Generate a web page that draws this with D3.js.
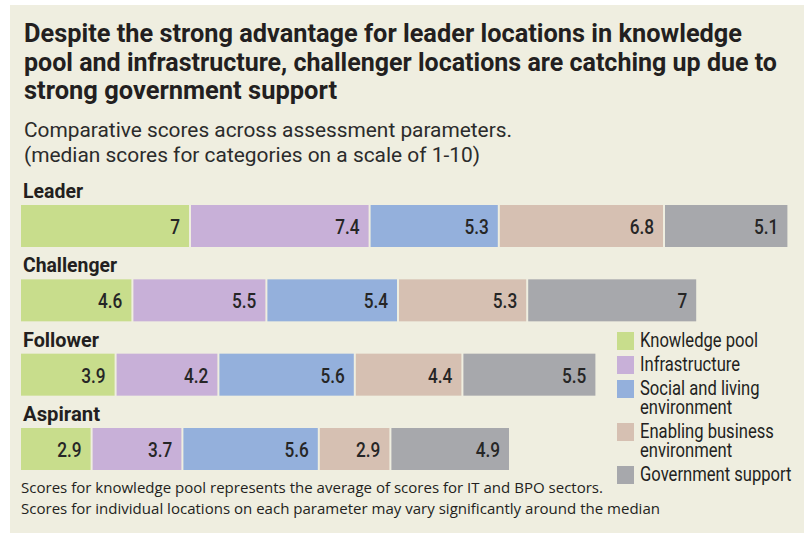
<!DOCTYPE html>
<html>
<head>
<meta charset="utf-8">
<script src="https://cdn.jsdelivr.net/npm/d3@7"></script>
<style>
  html, body { margin: 0; padding: 0; background: #ffffff; }
  svg { display: block; }
</style>
</head>
<body>
<div id="chart"></div>
<script>
// categories (rows) and the five assessment parameters (stacked segments)
var categories = ['Leader', 'Challenger', 'Follower', 'Aspirant'];
var parameters = ['Knowledge pool', 'Infrastructure', 'Social and living environment', 'Enabling business environment', 'Government support'];

// median scores per category, one array per parameter
var knowledgePool     = [7,   4.6, 3.9, 2.9];
var infrastructure    = [7.4, 5.5, 4.2, 3.7];
var socialLiving      = [5.3, 5.4, 5.6, 5.6];
var enablingBusiness  = [6.8, 5.3, 4.4, 2.9];
var governmentSupport = [5.1, 7,   5.5, 4.9];

// legend labels, split into lines as printed
var legendLabels = [['Knowledge pool'], ['Infrastructure'], ['Social and living', 'environment'], ['Enabling business', 'environment'], ['Government support']];

var titleLines = [
  'Despite the strong advantage for leader locations in knowledge',
  'pool and infrastructure, challenger locations are catching up due to',
  'strong government support'
];
var subtitleLines = [
  'Comparative scores across assessment parameters.',
  '(median scores for categories on a scale of 1-10)'
];
var footnoteLines = [
  'Scores for knowledge pool represents the average of scores for IT and BPO sectors.',
  'Scores for individual locations on each parameter may vary significantly around the median'
];

(function() {

  var width = 804,
      height = 533,
      bg = '#efeee0',
      ink = '#231f20',
      colors = ['#c8dd8c', '#c8b0d8', '#94b0dc', '#d6c0b2', '#a7a8ac'],
      condensed = 'Roboto, "Liberation Sans", sans-serif',
      plain = '"Open Sans", "DejaVu Sans", sans-serif',
      barLeft = 21,
      barHeight = 42,
      gap = 2;

  //narrow a text to a share of its natural width (no condensed faces installed)
  function squeeze(sel, factor) {
    sel.each(function() {
      var w = this.getComputedTextLength();
      d3.select(this)
        .attr('textLength', w * factor)
        .attr('lengthAdjust', 'spacingAndGlyphs');
    });
  }

  var svg = d3.select('#chart').append('svg')
    .attr('width', width)
    .attr('height', height);

  svg.append('rect')
    .attr('x', 10).attr('y', 5)
    .attr('width', width - 10).attr('height', height - 5)
    .attr('fill', bg);

  //Title + subtitle, stretched to the printed widths
  var titleWidths = [718, 753, 313];
  svg.selectAll('text.title')
    .data(titleLines)
    .enter().append('text')
      .attr('class', 'title')
      .attr('x', 24)
      .attr('y', function(d, i) { return 42 + i * 28.5; })
      .attr('font-family', condensed)
      .attr('font-weight', 'bold')
      .attr('font-size', 25)
      .attr('fill', ink)
      .attr('textLength', function(d, i) { return titleWidths[i]; })
      .attr('lengthAdjust', 'spacingAndGlyphs')
      .text(function(d) { return d; });

  var subWidths = [488, 456];
  svg.selectAll('text.subtitle')
    .data(subtitleLines)
    .enter().append('text')
      .attr('class', 'subtitle')
      .attr('x', 24)
      .attr('y', function(d, i) { return 137 + i * 25; })
      .attr('font-family', condensed)
      .attr('font-size', 20)
      .attr('fill', '#2b2b2b')
      .attr('textLength', function(d, i) { return subWidths[i]; })
      .attr('lengthAdjust', 'spacingAndGlyphs')
      .text(function(d) { return d; });

  //Scales
  var x = d3.scaleLinear().domain([0, 10]).range([0, 240]);
  var y = d3.scalePoint().domain(categories).range([205, 428]);

  var series = [knowledgePool, infrastructure, socialLiving, enablingBusiness, governmentSupport];
  var rows = categories.map(function(c, i) {
    var row = { category: c };
    parameters.forEach(function(p, j) { row[p] = series[j][i]; });
    return row;
  });

  var stacked = d3.stack().keys(parameters)(rows);

  //Category labels
  var labelWidths = { Leader: 60, Challenger: 94, Follower: 76, Aspirant: 77 };
  svg.selectAll('text.cat')
    .data(categories)
    .enter().append('text')
      .attr('class', 'cat')
      .attr('x', 23)
      .attr('y', function(d) { return y(d) - 7; })
      .attr('font-family', condensed)
      .attr('font-weight', 'bold')
      .attr('font-size', 21)
      .attr('fill', ink)
      .attr('textLength', function(d) { return labelWidths[d]; })
      .attr('lengthAdjust', 'spacingAndGlyphs')
      .text(function(d) { return d; });

  //Stacked segments
  var layers = svg.selectAll('g.layer')
    .data(stacked)
    .enter().append('g')
      .attr('class', 'layer')
      .attr('fill', function(d, j) { return colors[j]; });

  layers.selectAll('rect')
    .data(function(d) { return d.map(function(s) { return { s: s, j: d.index }; }); })
    .enter().append('rect')
      .attr('x', function(d) { return barLeft + x(d.s[0]) + d.j * gap; })
      .attr('y', function(d) { return y(d.s.data.category); })
      .attr('width', function(d) { return x(d.s[1] - d.s[0]); })
      .attr('height', barHeight);

  var values = layers.selectAll('text')
    .data(function(d) { return d.map(function(s) { return { s: s, j: d.index }; }); })
    .enter().append('text')
      .attr('x', function(d) { return barLeft + x(d.s[1]) + d.j * gap - 9; })
      .attr('y', function(d) { return y(d.s.data.category) + 29; })
      .attr('text-anchor', 'end')
      .attr('font-family', condensed)
      .attr('font-weight', 500)
      .attr('font-size', 21)
      .attr('fill', '#262626')
      .text(function(d) { return d3.format('~g')(d.s[1] - d.s[0]); });
  squeeze(values, 0.82);

  //Legend
  var legendY = 332, lineH = 19;
  var legend = svg.append('g').attr('class', 'legend');
  legendLabels.forEach(function(lines, j) {
    var g = legend.append('g').attr('transform', 'translate(617,' + legendY + ')');
    g.append('rect')
      .attr('width', 17).attr('height', 18)
      .attr('fill', colors[j]);
    var t = g.selectAll('text')
      .data(lines)
      .enter().append('text')
        .attr('x', 23)
        .attr('y', function(d, k) { return 15 + k * lineH; })
        .attr('font-family', condensed)
        .attr('font-size', 20)
        .attr('fill', ink)
        .text(function(d) { return d; });
    squeeze(t, 0.83);
    legendY += lines.length * lineH + 5;
  });

  //Footnotes
  var footWidths = [582, 639];
  svg.selectAll('text.foot')
    .data(footnoteLines)
    .enter().append('text')
      .attr('class', 'foot')
      .attr('x', 21)
      .attr('y', function(d, i) { return 493 + i * 20.5; })
      .attr('font-family', plain)
      .attr('font-size', 14)
      .attr('fill', ink)
      .attr('textLength', function(d, i) { return footWidths[i]; })
      .attr('lengthAdjust', 'spacingAndGlyphs')
      .text(function(d) { return d; });

}());
</script>
</body>
</html>
